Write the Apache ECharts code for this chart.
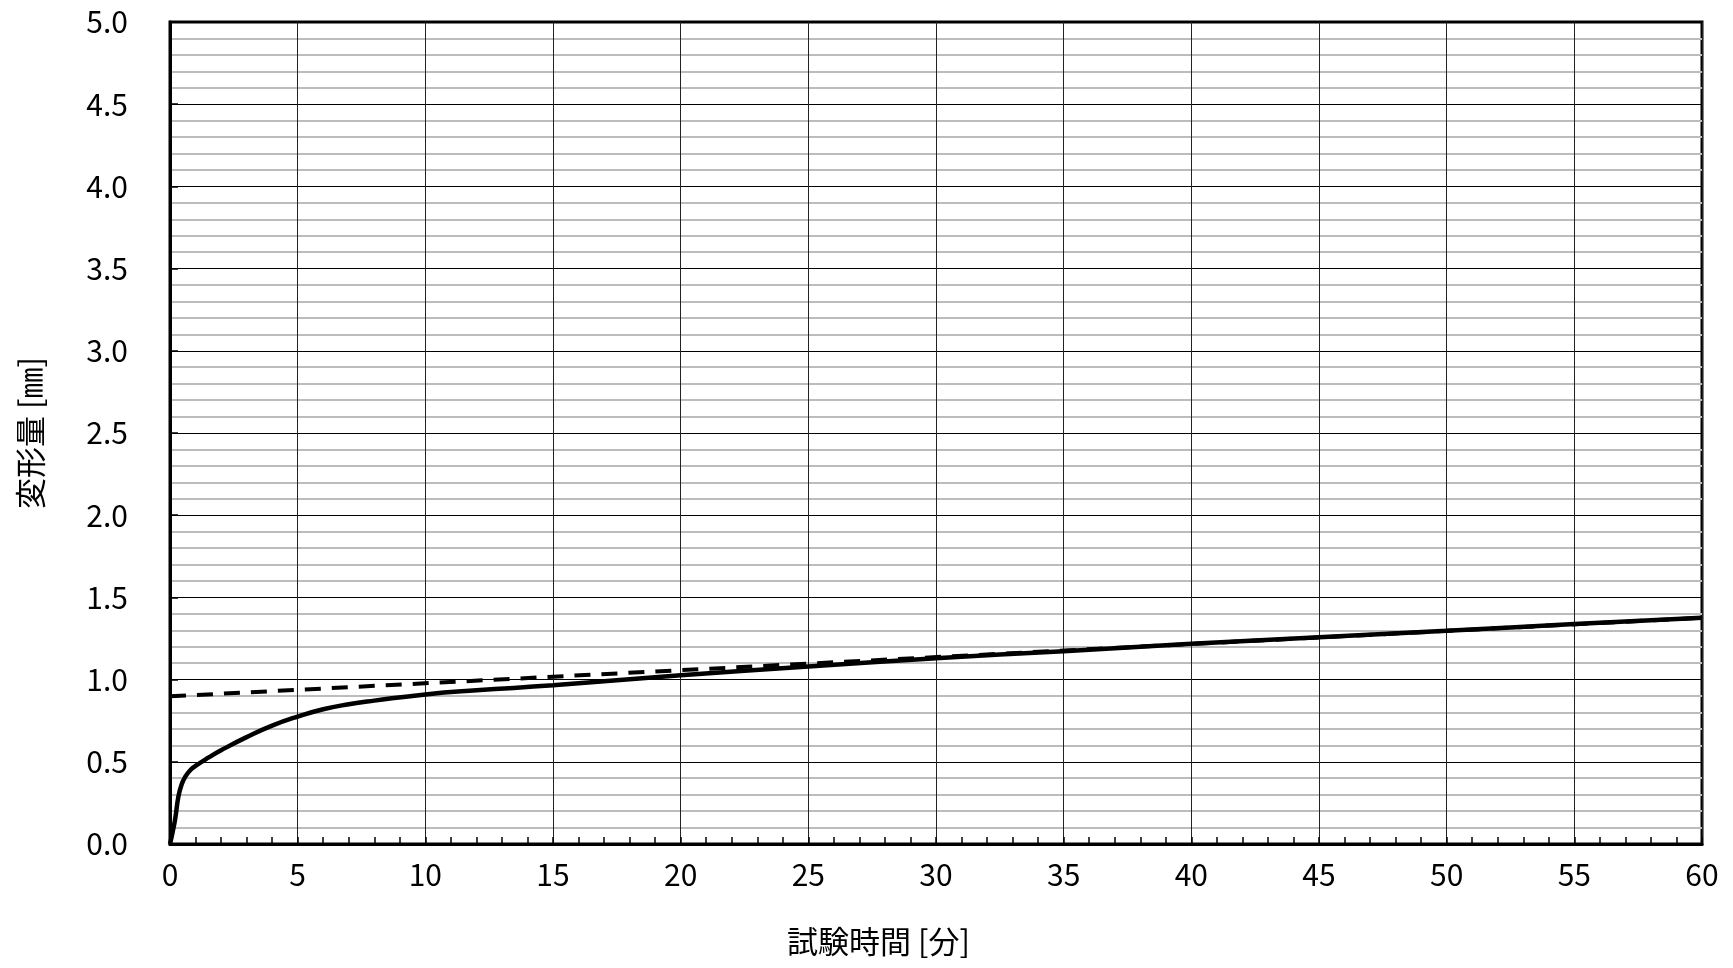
<!DOCTYPE html>
<html>
<head>
<meta charset="utf-8">
<script src="https://cdn.jsdelivr.net/npm/echarts@6/dist/echarts.min.js"></script>
<style>
  html, body { margin: 0; padding: 0; background: #fff; }
  #chart { width: 1733px; height: 968px; }
</style>
</head>
<body>
<div id="chart"></div>
<script>
// 実測曲線（試験時間 [分] / 変形量 [mm]）
const timeSolid = [0, 0.1, 0.2, 0.33, 0.45, 0.6, 0.8, 1, 1.5, 2, 3, 4, 5, 6, 7, 8, 10, 12, 15, 20, 25, 30, 35, 40, 45, 50, 55, 60]
const deformSolid = [0, 0.07, 0.15, 0.29, 0.36, 0.41, 0.45, 0.475, 0.525, 0.57, 0.65, 0.72, 0.775, 0.82, 0.85, 0.872, 0.91, 0.935, 0.965, 1.026, 1.08, 1.13, 1.173, 1.218, 1.258, 1.297, 1.338, 1.376]
// 外挿直線（破線）
const timeDashed = [0, 60]
const deformDashed = [0.898, 1.376]

const xName = '試験時間 [分]'
const yName = '変形量 [㎜]'

const numFont = '"Noto Sans CJK JP", sans-serif'
const jpFont = '"Noto Sans CJK JP", sans-serif'

const chart = echarts.init(document.getElementById('chart'))
chart.setOption({
  animation: false,
  backgroundColor: '#fff',
  grid: {
    left: 170,
    right: 31,
    top: 22,
    bottom: 124,
    show: true,
    borderColor: '#000',
    borderWidth: 3,
    backgroundColor: 'transparent'
  },
  graphic: [{
    type: 'text',
    left: 877 - 90,
    top: 926,
    style: {
      text: xName,
      fontSize: 31,
      fontFamily: jpFont,
      fill: '#000'
    }
  }],
  xAxis: {
    type: 'value',
    min: 0,
    max: 60,
    interval: 5,
    axisLine: {lineStyle: {color: '#000', width: 3}},
    axisTick: {show: true, inside: true, length: 7, lineStyle: {color: '#000', width: 1.5}},
    minorTick: {show: true, splitNumber: 5, length: 7, lineStyle: {color: '#000', width: 1.5}},
    axisLabel: {margin: 16, fontSize: 30, color: '#000', fontFamily: numFont},
    splitLine: {show: true, lineStyle: {color: '#222', width: 1}}
  },
  yAxis: {
    type: 'value',
    min: 0,
    max: 5,
    interval: 0.5,
    name: yName,
    nameLocation: 'middle',
    nameGap: 124,
    nameTextStyle: {fontSize: 31, color: '#000', fontFamily: jpFont},
    axisLine: {show: true, lineStyle: {color: '#000', width: 3}},
    axisTick: {show: true, inside: true, length: 8, lineStyle: {color: '#000', width: 1.5}},
    axisLabel: {
      margin: 42,
      fontSize: 30,
      color: '#000',
      fontFamily: numFont,
      formatter: v => v.toFixed(1)
    },
    splitLine: {show: true, lineStyle: {color: '#000', width: 1}},
    minorTick: {show: false, splitNumber: 5},
    minorSplitLine: {show: true, lineStyle: {color: '#bcbcbc', width: 2}}
  },
  series: [
    {
      name: 'dashed',
      type: 'line',
      data: timeDashed.map((t, i) => [t, deformDashed[i]]),
      showSymbol: false,
      lineStyle: {color: '#000', width: 4, type: [16, 11]},
      z: 2
    },
    {
      name: 'solid',
      type: 'line',
      data: timeSolid.map((t, i) => [t, deformSolid[i]]),
      showSymbol: false,
      smooth: 0.5,
      lineStyle: {color: '#000', width: 4.5},
      z: 3
    }
  ]
})
</script>
</body>
</html>
